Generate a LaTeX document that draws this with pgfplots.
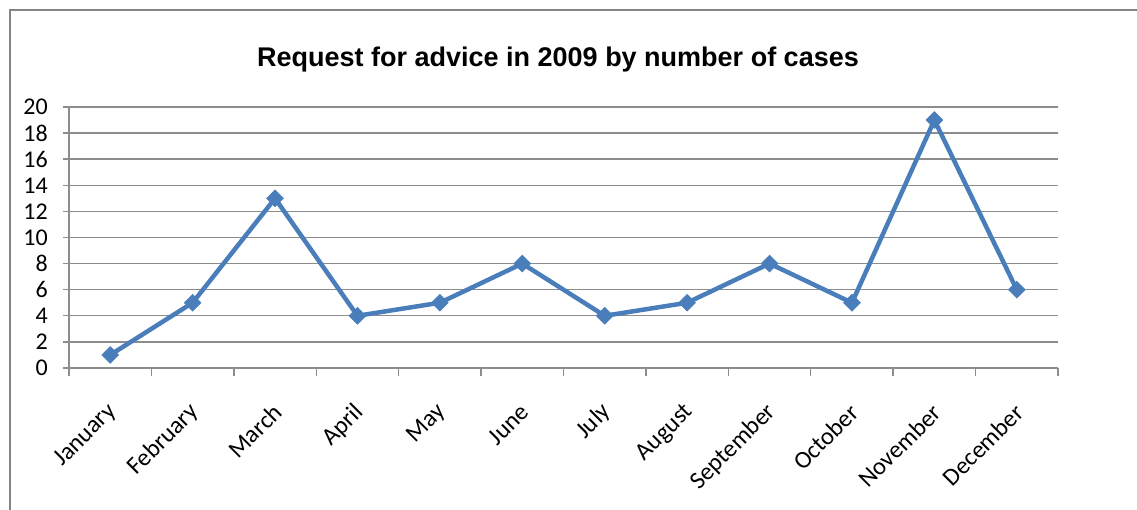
\documentclass[border=0pt]{standalone}
\usepackage{pgfplots}
\pgfplotsset{compat=1.18}
\usepackage{fontspec}
\setmainfont{Carlito}
\newfontfamily\titlefont{Liberation Sans}[BoldFont={Liberation Sans Bold}]
\definecolor{lineblue}{HTML}{4A7EBB}
\definecolor{gridgray}{HTML}{8C8C8C}
\definecolor{framegray}{HTML}{848484}
\begin{document}
\begin{tikzpicture}[x=1pt,y=1pt]
\path[use as bounding box] (0,0) rectangle (1137,510);
\draw[framegray, line width=2.2pt] (10,0) -- (10,500) -- (1140,500);
\node[font=\titlefont\bfseries\fontsize{27}{30}\selectfont, anchor=base] at (558,443) {Request for advice in 2009 by number of cases};
\begin{axis}[
  at={(69pt,142pt)}, anchor=south west,
  scale only axis, width=989pt, height=261pt,
  xmin=0.5, xmax=12.5, ymin=0, ymax=20,
  ytick={0,2,...,20},
  xtick={1,...,12},
  xticklabels={January,February,March,April,May,June,July,August,September,October,November,December},
  minor xtick={0.5,1.5,...,12.5},
  major x tick style={draw=none},
  minor tick length=8pt,
  major tick length=6pt,
  tick align=outside,
  xtick pos=bottom, ytick pos=left,
  axis x line*=bottom, axis y line*=left,
  axis line style={gridgray, line width=1.4pt, -},
  tick style={gridgray, line width=1.4pt},
  ymajorgrids, grid style={gridgray, line width=1.4pt},
  /pgf/number format/assume math mode=true,
  yticklabel style={font=\fontsize{24}{24}\selectfont, inner sep=1pt, xshift=-14pt},
  xticklabel style={font=\fontsize{24.5}{24.5}\selectfont, xshift=5pt, yshift=-32pt, rotate=45, anchor=east},
  clip=false,
]
\addplot[lineblue, line width=4.5pt, mark=square*, mark size=6pt, mark options={solid, rotate=45, fill=lineblue, line width=0.5pt}] coordinates {
(1,1) (2,5) (3,13) (4,4) (5,5) (6,8) (7,4) (8,5) (9,8) (10,5) (11,19) (12,6)
};
\end{axis}
\end{tikzpicture}
\end{document}
